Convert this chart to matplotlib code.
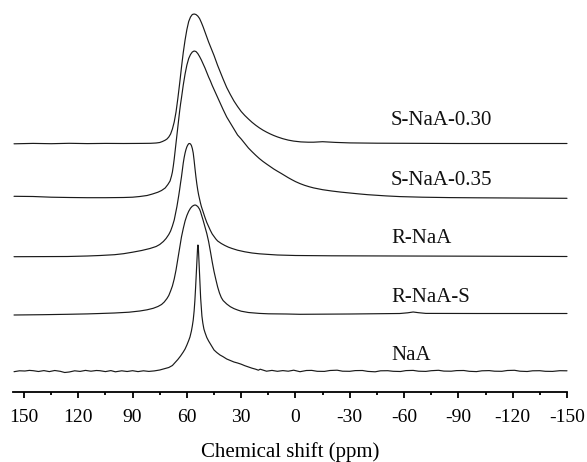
import matplotlib
matplotlib.use("Agg")
import matplotlib.pyplot as plt
from matplotlib.ticker import MultipleLocator

plt.rcParams['font.family'] = ['Liberation Serif', 'DejaVu Serif']

# ---- data: (chemical shift ppm, intensity a.u.) ----
labels = ["S-NaA-0.30", "S-NaA-0.35", "R-NaA", "R-NaA-S", "NaA"]

s_naa_030 = [
    (155.5, -0.3), (145, 0.1), (135, -0.2), (125, 0.2), (115, -0.1), (105, 0.1), (95, 0.0),
    (85, 0.1), (80, 0.2), (77, 0.5), (75, 1.0), (73.5, 2.0), (72, 3.3), (71, 4.5), (70, 6.5),
    (69, 9.5), (68, 14.5), (67, 21.5), (66, 31.5), (65, 45), (64, 60), (63, 76), (62, 91),
    (61, 103.5), (60, 114), (59, 122), (58, 126.5), (57, 129), (56, 129.5), (55, 129),
    (54, 127.5), (53, 125), (52, 121), (51, 116.5), (50, 111.5), (49, 106.5), (48, 101.5),
    (47, 97), (46, 92.5), (45, 88), (44, 83), (43, 78), (42, 73.5), (41, 69), (40, 64.5),
    (38, 56), (36, 49), (34, 42.5), (32, 37), (30, 32), (28, 28), (26, 24.5), (24, 21.2),
    (22, 18.3), (20, 15.7), (18, 13.4), (16, 11.4), (14, 9.6), (12, 8.0), (10, 6.6), (7, 4.8),
    (4, 3.4), (1, 2.4), (-3, 1.6), (-7, 1.3), (-10, 1.3), (-13, 1.6), (-15, 1.8), (-18, 1.5),
    (-22, 1.1), (-30, 0.6), (-45, 0.3), (-60, 0.2), (-90, 0.0), (-150, 0.0)]

s_naa_035 = [
    (155.5, 1.7), (145, 1.5), (135, 0.8), (125, 0.5), (115, 0.3), (105, 0.3), (95, 0.5),
    (90, 0.8), (86, 1.5), (82, 2.5), (79, 4.0), (76, 5.8), (74, 7.5), (72, 10.0), (70.5, 13.5),
    (69.3, 17.0), (68.5, 22), (68, 26), (67.5, 32), (67, 39), (66.5, 47), (66, 55), (65.5, 63),
    (65, 71), (64.5, 79), (64, 87), (63.5, 94), (63, 100), (62.5, 106.5), (62, 113),
    (61.5, 118.5), (61, 124), (60.5, 128.5), (60, 133), (59, 139.5), (58, 143.5), (57, 146),
    (56, 147), (55, 146.5), (54, 144.5), (53, 141.5), (52, 138), (51, 134), (50, 130),
    (49, 125.5), (48, 121), (47, 117), (46, 112.5), (45, 108.5), (44, 104.5), (43, 100.5),
    (42, 96.5), (40, 88.5), (38, 81), (36, 75), (34, 69), (32, 63), (30, 59), (28, 54.5),
    (26, 50), (24, 46.3), (22, 42.8), (20, 39.5), (18, 36.6), (16, 34), (14, 31.5), (12, 29),
    (10, 26.8), (8, 24.7), (6, 22.5), (4, 20.3), (2, 18.3), (0, 16.4), (-2.5, 14.4),
    (-5, 12.7), (-7.5, 11.3), (-10, 10.1), (-15, 8.3), (-20, 7.0), (-25, 5.9), (-30, 5.0),
    (-35, 4.1), (-40, 3.3), (-45, 2.7), (-50, 2.1), (-57.7, 1.4), (-70, 0.8), (-85, 0.4),
    (-100, 0.2), (-120, 0.0), (-150, -0.3)]

r_naa = [
    (155.5, -0.7), (140, -0.6), (126, -0.5), (115, 0.0), (108, 0.5), (100, 1.3), (95, 2.3),
    (90, 3.8), (85, 5.5), (80.4, 7.5), (77, 9.5), (75, 11.5), (73, 14.5), (71.5, 17.5),
    (70, 21.5), (69, 25), (68, 30), (67, 36), (66.5, 40.5), (66, 45), (65.5, 49.5), (65, 55),
    (64.5, 60.5), (64, 66.5), (63.5, 73), (63, 79), (62.5, 86), (62, 93), (61.5, 98.5),
    (61, 103), (60.5, 106.5), (60, 109.2), (59.5, 111), (59, 112.3), (58.5, 112.5), (58, 112),
    (57.5, 110.5), (57, 107.5), (56.5, 103), (56, 95.5), (55.5, 87), (55, 79), (54.5, 72),
    (54, 66), (53.5, 61), (53, 57), (52.5, 53), (52, 49.5), (51, 44), (50, 38.5), (49, 33.5),
    (48, 29.5), (47, 25.5), (46, 22), (45, 19.5), (44, 17), (43, 15), (41, 12.5), (39, 10.5),
    (37, 8.8), (35, 7.5), (32, 5.8), (28, 4.2), (24, 3.0), (20, 2.2), (16, 1.7), (10, 1.0),
    (0, 0.5), (-20, 0.2), (-57.7, 0.0), (-100, -0.2), (-150, -0.5)]

r_naa_s = [
    (155.5, -1.0), (140, -0.7), (126, -0.3), (115, 0.1), (108, 0.5), (100, 1.0), (92, 1.8),
    (86, 3.0), (82, 4.2), (78.6, 5.7), (76, 7.5), (74, 9.5), (72.5, 12), (71, 15.5),
    (70, 18.5), (69, 23), (68, 28), (67, 35), (66, 44), (65, 55), (64, 66), (63, 77),
    (62, 85.5), (61, 93), (60, 98.5), (59, 102.7), (58, 105.8), (57, 107.8), (56, 108.8),
    (55.5, 109), (55, 108.8), (54, 107.5), (53, 104.8), (52.5, 102.5), (52, 99.5), (51, 93.5),
    (50, 87), (49, 80.5), (48, 72.5), (47, 62.5), (46, 52), (45, 42.5), (44, 34.5), (43, 27),
    (42, 21), (41, 16.5), (40, 13.5), (38, 10), (36, 7.3), (34, 5.4), (32, 4), (30, 2.8),
    (26, 1.5), (20, 0.6), (15, 0.2), (5, 0.0), (-2.5, -0.3), (-30, 0.0), (-57.7, 0.5),
    (-62, 1.2), (-65, 2.0), (-68, 1.3), (-72, 0.6), (-100, 0.5), (-150, 0.5)]

naa = [
    (155.5, -0.7), (152.5, 0.2), (149.5, 0.0), (147, 0.6), (144.9, 0.3), (142, -0.5),
    (139, 0.4), (136, -0.6), (133, 0.5), (130, -0.3), (127.5, -1.5), (125, -1.0), (122, 0.2),
    (119, -0.4), (116, 0.6), (113, -0.2), (110, 0.5), (108, 0.3), (105, -0.6), (102, 0.4),
    (99.5, -0.8), (96, 0.2), (93, -0.5), (90, 0.3), (87, -0.6), (84, 0.2), (81, -0.4),
    (78, 0.1), (75, 1.0), (72, 2.5), (70, 3.5), (68, 5.5), (66.5, 8.5), (65, 11.5),
    (63.5, 15), (62, 19), (61, 22), (60, 26), (59, 30.5), (58.3, 34), (57.5, 40), (57, 45),
    (56.5, 51), (56, 60), (55.6, 70), (55.2, 83), (54.8, 98), (54.4, 114), (54.1, 123),
    (53.9, 126), (53.6, 121), (53.3, 109), (53, 96), (52.7, 84), (52.4, 73), (52, 63),
    (51.7, 55), (51.2, 48), (50.6, 42), (50, 38.5), (49, 33.5), (48, 30), (47, 27),
    (46, 24), (45, 21), (43.5, 18.5), (41.7, 16), (40, 14.3), (38, 12), (36, 10.5), (34, 9),
    (32, 8), (30, 6.8), (28, 5.3), (26, 4.0), (24, 2.8), (22, 1.8), (20.5, 0.8), (19.5, 1.8),
    (18.5, 1.2), (16, -0.2), (13, 0.6), (10, -0.3), (7, 0.4), (4, -0.2), (1, 0.8),
    (-2.5, -0.7), (-6, 0.5), (-9, 0.6), (-12, -0.3), (-16, -0.4), (-19, 0.5), (-23, 0.8),
    (-26, -0.2), (-30, -0.3), (-33, 0.4), (-37, 0.5), (-40, -0.4), (-44, -0.8), (-47, 0.2),
    (-51, 0.3), (-54, -0.3), (-58, -0.5), (-61, 0.4), (-65, 0.6), (-68, -0.2), (-72, -0.4),
    (-75, 0.3), (-79, 0.7), (-82, -0.1), (-86, -0.2), (-89, 0.4), (-93, 0.5), (-96, -0.3),
    (-100, -0.6), (-103, 0.2), (-107, 0.4), (-110, -0.2), (-114, -0.3), (-117, 0.5),
    (-121, 0.7), (-124, -0.2), (-128, -0.5), (-131, 0.2), (-135, 0.3), (-138, -0.3),
    (-142, -0.4), (-146, 0.3), (-150, 0.2)]

spectra = [s_naa_030, s_naa_035, r_naa, r_naa_s, naa]

xticks = [150, 120, 90, 60, 30, 0, -30, -60, -90, -120, -150]
xlabel = "Chemical shift (ppm)"

# ---- layout (stacking offsets and label placement) ----
offsets = [248.5, 194.0, 136.0, 78.0, 21.0]
label_y = [267.0, 207.0, 149.0, 90.0, 32.0]
label_x = -52.8

fig = plt.figure(figsize=(5.87, 4.62), dpi=100)
ax = fig.add_axes([13.3 / 587, 70 / 462, (567 - 13.3) / 587, 392 / 462])

for spec, off in zip(spectra, offsets):
    xs = [p for p, _ in spec]
    ys = [off + v for _, v in spec]
    ax.plot(xs, ys, color="#1a1a1a", lw=0.85, clip_on=False,
            solid_joinstyle="round", solid_capstyle="round")

for lab, ly in zip(labels, label_y):
    ax.text(label_x, ly, lab, fontsize=15, ha="left", va="baseline", color="#111111")

ax.set_xlim(155.9, -150)
ax.set_ylim(0, 392)
ax.set_xticks(xticks)
ax.set_xticklabels([str(t) for t in xticks])
ax.xaxis.set_minor_locator(MultipleLocator(15))
ax.set_yticks([])
for s in ["left", "right", "top"]:
    ax.spines[s].set_visible(False)
ax.spines["bottom"].set_linewidth(1.3)
ax.tick_params(axis="x", which="major", direction="out", length=4.5, width=1.3,
               labelsize=14, pad=8)
ax.tick_params(axis="x", which="minor", direction="out", length=2.3, width=1.3)
ax.set_xlabel(xlabel, fontsize=15, labelpad=11)
ax.patch.set_visible(False)

fig.savefig("out.png", dpi=100)
